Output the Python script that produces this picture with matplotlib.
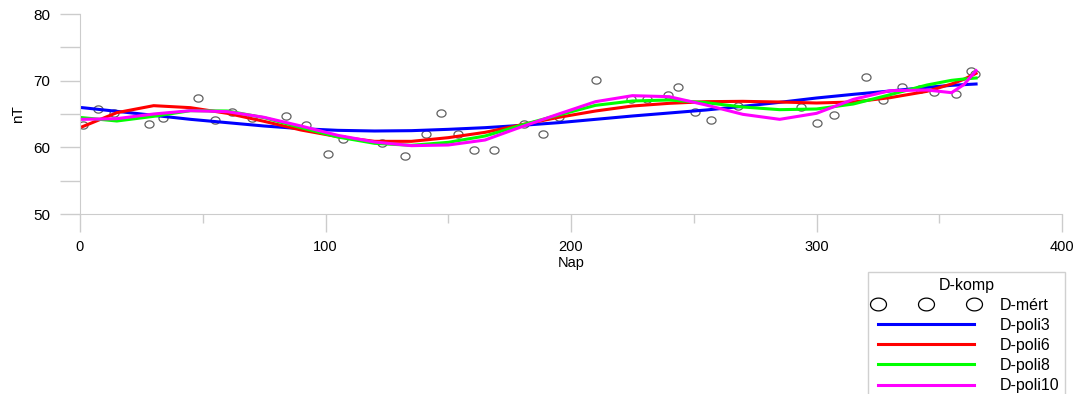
import numpy as np
import matplotlib
matplotlib.use("Agg")
import matplotlib.pyplot as plt
from matplotlib.path import Path
from matplotlib.lines import Line2D
from matplotlib.ticker import MultipleLocator

# measured D component (day, nT)
nap = [1.2, 7.3, 14, 28, 34, 48, 55, 62, 70, 84, 92, 101, 107, 123, 132.5,
       141, 147, 154, 160.6, 168.7, 181, 188.6, 195, 210, 224.4, 231, 239.4,
       243.5, 250.4, 257, 268, 293.5, 300.4, 307, 320, 327, 335, 342, 348,
       357, 363, 364.6]
d_mert = [63.35, 65.75, 65.15, 63.5, 64.4, 67.4, 64.1, 65.3, 64.4, 64.7,
          63.35, 59.0, 61.25, 60.65, 58.7, 62.0, 65.15, 62.0, 59.6, 59.6,
          63.5, 62.0, 64.55, 70.1, 67.25, 67.25, 67.85, 69.05, 65.3, 64.1,
          66.2, 66.05, 63.65, 64.85, 70.55, 67.1, 69.05, 68.75, 68.3, 68.0,
          71.45, 71.0]

# fitted curves
nap_fit = [1, 15, 30, 45, 60, 75, 90, 105, 120, 135, 150, 165, 180, 195,
           210, 225, 240, 255, 270, 285, 300, 315, 330, 345, 355, 360, 365]
poli3 = [65.95, 65.4, 64.8, 64.2, 63.7, 63.2, 62.8, 62.55, 62.45, 62.5, 62.7,
         62.95, 63.3, 63.7, 64.2, 64.7, 65.15, 65.6, 66.15, 66.75, 67.4,
         67.95, 68.45, 69.0, 69.3, 69.4, 69.5]
poli6 = [63.1, 65.2, 66.25, 65.95, 65.1, 63.9, 62.6, 61.6, 60.9, 60.9, 61.45,
         62.25, 63.4, 64.5, 65.45, 66.2, 66.6, 66.85, 66.9, 66.8, 66.65,
         66.8, 67.45, 68.4, 69.5, 70.2, 71.1]
poli8 = [64.45, 63.95, 64.65, 65.5, 65.45, 64.45, 62.95, 61.55, 60.6, 60.3,
         60.75, 61.7, 63.35, 64.85, 66.3, 66.95, 67.1, 66.7, 66.05, 65.65,
         65.75, 66.5, 67.9, 69.35, 70.05, 70.25, 70.4]
poli10 = [64.2, 64.3, 65.0, 65.5, 65.35, 64.5, 63.2, 61.8, 60.8, 60.25, 60.35,
          61.1, 63.1, 65.0, 66.85, 67.75, 67.6, 66.35, 64.95, 64.2, 65.1,
          67.2, 68.5, 68.6, 68.2, 69.4, 71.5]

plt.rcParams['font.family'] = ['Liberation Sans', 'DejaVu Sans']

# slightly flattened circle, like in the original
t = np.linspace(0, 2 * np.pi, 60)
ellipse = Path(np.column_stack([np.cos(t), 0.8 * np.sin(t)]), closed=True)

fig = plt.figure(figsize=(10.79, 3.94), dpi=100)
ax = fig.add_axes([80 / 1079, 1 - 214 / 394, 982 / 1079, 200 / 394])

ax.plot(nap, d_mert, ls='none', marker=ellipse, ms=6.5, mfc='none',
        mec='#606060', mew=0.9)
ax.plot(nap_fit, poli3, color='#0000ff', lw=2.2)
ax.plot(nap_fit, poli6, color='#ff0000', lw=2.2)
ax.plot(nap_fit, poli8, color='#00ff00', lw=2.2)
ax.plot(nap_fit, poli10, color='#ff00ff', lw=2.2)

ax.set_xlim(0, 400)
ax.set_ylim(50, 80)
ax.xaxis.set_major_locator(MultipleLocator(100))
ax.xaxis.set_minor_locator(MultipleLocator(50))
ax.yaxis.set_major_locator(MultipleLocator(10))
ax.yaxis.set_minor_locator(MultipleLocator(5))

grey = '#cccccc'
for s in ['top', 'right']:
    ax.spines[s].set_visible(False)
for s in ['left', 'bottom']:
    ax.spines[s].set_color(grey)
ax.tick_params(axis='x', which='major', length=13, width=1, color=grey,
               pad=6, labelsize=10.5)
ax.tick_params(axis='x', which='minor', length=6.5, width=1, color=grey)
ax.tick_params(axis='y', which='both', length=14.4, width=1, color=grey,
               pad=7, labelsize=11)
for lab in ax.get_xticklabels():
    lab.set_family(['Liberation Sans Narrow', 'Liberation Sans'])

ax.set_xlabel('Nap', fontsize=10.5, labelpad=1,
              family=['Liberation Sans Narrow', 'Liberation Sans'])
ax.set_ylabel('nT', fontsize=11, labelpad=6)

handles = [
    Line2D([], [], ls='none', marker=ellipse, ms=11.5, mfc='none',
           mec='black', mew=0.9),
    Line2D([], [], color='#0000ff', lw=2.2),
    Line2D([], [], color='#ff0000', lw=2.2),
    Line2D([], [], color='#00ff00', lw=2.2),
    Line2D([], [], color='#ff00ff', lw=2.2),
]
labels = ['D-mért', 'D-poli3', 'D-poli6', 'D-poli8', 'D-poli10']
leg = fig.legend(handles, labels, title='D-komp', loc='upper left',
                 bbox_to_anchor=(860 / 1079, 1 - 264 / 394), numpoints=3,
                 handlelength=6.6, handletextpad=1.3, fontsize=11.5,
                 title_fontsize=11.5, labelspacing=0.32, fancybox=False,
                 edgecolor='#d0d0d0', borderpad=0.35, framealpha=1)
leg.get_frame().set_linewidth(1)

fig.savefig('out.png', dpi=100)
